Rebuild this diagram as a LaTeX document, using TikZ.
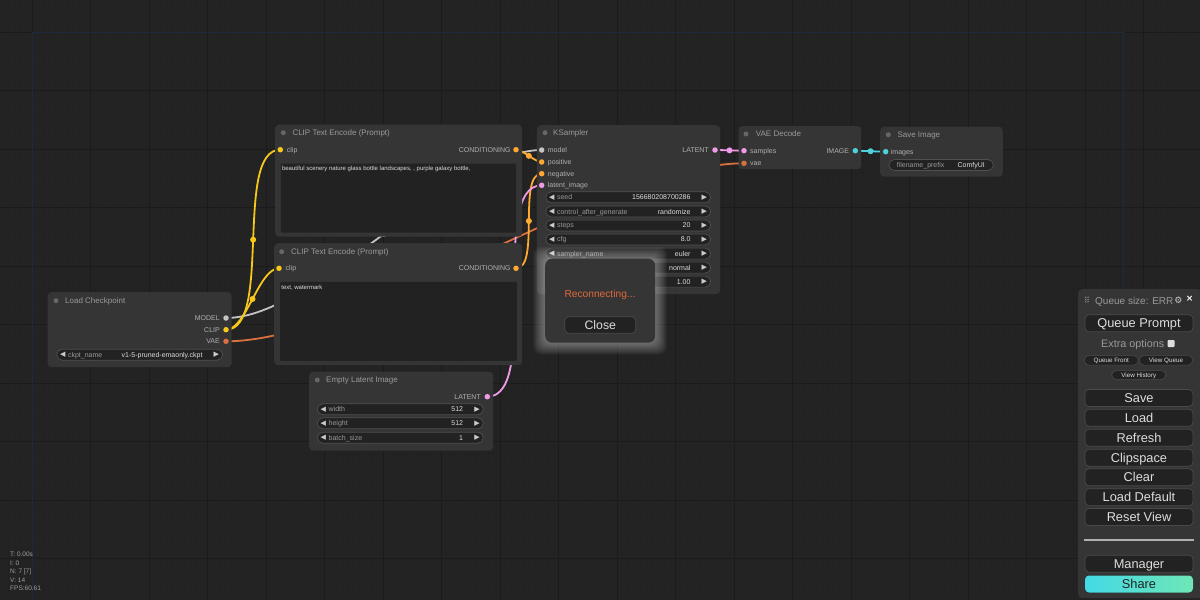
\documentclass[tikz,border=0pt]{standalone}
\usepackage{fontspec}
\setmainfont{Liberation Sans}
\newfontfamily\symf{DejaVu Sans}
\pgfdeclarelayer{gridlayer}
\pgfdeclarelayer{linklayer}
\pgfsetlayers{gridlayer,linklayer,main}
\definecolor{bgc}{HTML}{232323}
\definecolor{gridmin}{HTML}{212121}
\definecolor{gridmaj}{HTML}{1B1B1B}
\definecolor{framec}{HTML}{1C2A3C}
\definecolor{nodebg}{HTML}{353535}
\definecolor{titletxt}{HTML}{9A9A9A}
\definecolor{slottxt}{HTML}{B0B0B0}
\definecolor{tdotc}{HTML}{666666}
\definecolor{wbg}{HTML}{222222}
\definecolor{wborder}{HTML}{505050}
\definecolor{wlab}{HTML}{999999}
\definecolor{wvalc}{HTML}{DDDDDD}
\definecolor{arrc}{HTML}{CCCCCC}
\definecolor{tabg}{HTML}{222222}
\definecolor{tatxt}{HTML}{DDDDDD}
\definecolor{cmodel}{HTML}{C4C4C4}
\definecolor{cclip}{HTML}{F7C71A}
\definecolor{ccond}{HTML}{FFA931}
\definecolor{clat}{HTML}{F09AE8}
\definecolor{cvae}{HTML}{D9703F}
\definecolor{cimg}{HTML}{4DD2DC}
\definecolor{recon}{HTML}{E0683A}
\definecolor{btnbg}{HTML}{222222}
\definecolor{btnbd}{HTML}{4A4A4A}
\definecolor{btntxt}{HTML}{DDDDDD}
\definecolor{sharel}{HTML}{44D9E6}
\definecolor{sharer}{HTML}{6EE6B6}
\definecolor{stattxt}{HTML}{A0A0A0}
\tikzset{
  cnode/.style={fill=nodebg, rounded corners=4pt, anchor=north west, inner sep=0, draw=none},
  ttl/.style={anchor=west, inner sep=0, text=titletxt, font=\fontsize{8}{9}\selectfont, text height=5.8pt, text depth=0pt},
  tdot/.style={circle, fill=tdotc, minimum size=5pt, inner sep=0},
  sdot/.style={circle, fill=#1, minimum size=5.5pt, inner sep=0},
  slblw/.style={anchor=west, inner sep=0, text=slottxt, font=\fontsize{7}{8}\selectfont, text height=5pt, text depth=0pt},
  slble/.style={anchor=east, inner sep=0, text=slottxt, font=\fontsize{7}{8}\selectfont, text height=5pt, text depth=0pt},
  pill/.style={fill=wbg, draw=wborder, line width=0.7pt, rounded corners=5.5pt, minimum height=11pt, inner sep=0},
  warr/.style={inner sep=0, text=arrc, font=\symf\fontsize{7}{8}\selectfont},
  wlbl/.style={anchor=west, inner sep=0, text=wlab, font=\fontsize{7}{8}\selectfont, text height=5pt, text depth=0pt},
  wval/.style={anchor=east, inner sep=0, text=wvalc, font=\fontsize{7}{8}\selectfont, text height=5pt, text depth=0pt},
  tarea/.style={fill=tabg, anchor=north west, inner sep=0, rounded corners=1pt},
  tatext/.style={anchor=west, inner sep=0, text=tatxt, font=\fontsize{6}{7}\selectfont, text height=4.3pt, text depth=0pt},
  link/.style={draw=#1, line width=1.8pt},
  mdot/.style={circle, fill=#1, minimum size=6pt, inner sep=0},
  btn/.style={fill=btnbg, draw=btnbd, line width=0.7pt, rounded corners=4pt, minimum width=108pt, minimum height=17pt, inner sep=0, text=btntxt, font=\fontsize{12.8}{14}\selectfont, text height=9.2pt, text depth=0pt},
  sbtn/.style={fill=btnbg, draw=btnbd, line width=0.6pt, rounded corners=4.5pt, minimum height=9.5pt, inner sep=0, text=btntxt, font=\fontsize{6.3}{7}\selectfont, text height=4.5pt, text depth=0pt},
  stat/.style={anchor=west, inner sep=0, text=stattxt, font=\fontsize{6.5}{7}\selectfont, text height=4.6pt, text depth=0pt}
}
\newcommand\wpill[6]{%
  \node[pill, minimum width={#3-#2}] (#1) at ({(#2+#3)/2},#4) {};
  \node[warr] (#1-a) at ({#2+6},#4) {◀};
  \node[warr] (#1-b) at ({#3-6.3},#4) {▶};
  \node[wlbl] (#1-l) at ({#2+11.2},#4) {#5};
  \node[wval] (#1-v) at ({#3-20},#4) {#6};
}
\newcommand\wpillv[5]{%
  \node[pill, minimum width={#3-#2}] (#1) at ({(#2+#3)/2},#4) {};
  \node[warr] (#1-b) at ({#3-6.3},#4) {▶};
  \node[wval] (#1-v) at ({#3-20},#4) {#5};
}
\begin{document}
\begin{tikzpicture}[x=1pt,y=-1pt]
\useasboundingbox (0,0) rectangle (1200,600);
\begin{pgfonlayer}{gridlayer}
  \fill[bgc] (0,0) rectangle (1200,600);
  \foreach \i in {-3,...,100} {\draw[gridmin, line width=0.5pt] ({32+\i*11.7},0) -- ({32+\i*11.7},600);}
  \foreach \i in {-3,...,50} {\draw[gridmin, line width=0.5pt] (0,{32+\i*11.7}) -- (1200,{32+\i*11.7});}
  \foreach \i in {-1,...,20} {\draw[gridmaj, line width=0.8pt] ({32+\i*58.5},0) -- ({32+\i*58.5},600);}
  \foreach \i in {-1,...,10} {\draw[gridmaj, line width=0.8pt] (0,{32+\i*58.5}) -- (1200,{32+\i*58.5});}
  \draw[framec, line width=0.7pt] (32,600) -- (32,32) -- (1123,32) -- (1123,600);
\end{pgfonlayer}

% ---------- Load Checkpoint
\node[cnode, minimum width=184pt, minimum height=75pt] (lc) at (47.5,292) {};
\node[tdot] (lc-d) at (56,300.7) {};
\node[ttl] (lc-t) at (65,300.7) {Load Checkpoint};
\node[slble] (lc-ml) at (220,318) {MODEL};
\node[slble] (lc-cl) at (220,329.7) {CLIP};
\node[slble] (lc-vl) at (220,341.3) {VAE};
\node[sdot=cmodel] (lc-model) at (226,318) {};
\node[sdot=cclip] (lc-clip) at (226,329.7) {};
\node[sdot=cvae] (lc-vae) at (226,341.3) {};
\wpill{lc-w}{56.7}{222.7}{354.7}{ckpt\_name}{v1-5-pruned-emaonly.ckpt}

% ---------- CLIP Text Encode (top)
\node[cnode, minimum width=247pt, minimum height=112pt] (c1) at (275,124.5) {};
\node[tdot] (c1-d) at (283.3,132.7) {};
\node[ttl] (c1-t) at (292.3,132.7) {CLIP Text Encode (Prompt)};
\node[sdot=cclip] (c1-clip) at (280.3,149.7) {};
\node[slblw] (c1-cl) at (286.7,149.7) {clip};
\node[slble] (c1-ol) at (510.7,149.7) {CONDITIONING};
\node[sdot=ccond] (c1-out) at (516,149.7) {};
\node[tarea, minimum width=235.3pt, minimum height=69pt] (c1-ta) at (280.7,163.3) {};
\node[tatext] (c1-tx) at (281.8,168.8) {beautiful scenery nature glass bottle landscapes, , purple galaxy bottle,};

% ---------- CLIP Text Encode (bottom)
\node[cnode, minimum width=248pt, minimum height=122pt] (c2) at (274,243) {};
\node[tdot] (c2-d) at (281.7,251.7) {};
\node[ttl] (c2-t) at (291,251.7) {CLIP Text Encode (Prompt)};
\node[sdot=cclip] (c2-clip) at (279,268.3) {};
\node[slblw] (c2-cl) at (285.5,268.3) {clip};
\node[slble] (c2-ol) at (510.7,268.3) {CONDITIONING};
\node[sdot=ccond] (c2-out) at (516,268.3) {};
\node[tarea, minimum width=236.7pt, minimum height=79pt] (c2-ta) at (280,281.7) {};
\node[tatext] (c2-tx) at (281.2,287.7) {text, watermark};

% ---------- Empty Latent Image
\node[cnode, minimum width=184pt, minimum height=79pt] (el) at (309,371.5) {};
\node[tdot] (el-d) at (317.3,380) {};
\node[ttl] (el-t) at (326,380) {Empty Latent Image};
\node[slble] (el-ol) at (481,396.7) {LATENT};
\node[sdot=clat] (el-out) at (487.3,396.7) {};
\wpill{el-w1}{317.3}{483.3}{409.3}{width}{512}
\wpill{el-w2}{317.3}{483.3}{423.3}{height}{512}
\wpill{el-w3}{317.3}{483.3}{437.7}{batch\_size}{1}

% ---------- KSampler
\node[cnode, minimum width=183.3pt, minimum height=169pt] (ks) at (536.7,125) {};
\node[tdot] (ks-d) at (545,132.7) {};
\node[ttl] (ks-t) at (553,132.7) {KSampler};
\node[sdot=cmodel] (ks-model) at (541.7,150) {};
\node[sdot=ccond] (ks-pos) at (541.7,162) {};
\node[sdot=ccond] (ks-neg) at (541.7,173.7) {};
\node[sdot=clat] (ks-lat) at (541.7,185.3) {};
\node[slblw] (ks-l1) at (547.7,150) {model};
\node[slblw] (ks-l2) at (547.7,162) {positive};
\node[slblw] (ks-l3) at (547.7,173.7) {negative};
\node[slblw] (ks-l4) at (547.7,185.3) {latent\_image};
\node[slble] (ks-ol) at (709,150) {LATENT};
\node[sdot=clat] (ks-out) at (715,150) {};
\wpill{ks-w1}{545.7}{710.7}{197.3}{seed}{156680208700286}
\wpill{ks-w2}{545.7}{710.7}{211.5}{control\_after\_generate}{randomize}
\wpill{ks-w3}{545.7}{710.7}{225.4}{steps}{20}
\wpill{ks-w4}{545.7}{710.7}{239.4}{cfg}{8.0}
\wpill{ks-w5}{545.7}{710.7}{253.6}{sampler\_name}{euler}
\wpillv{ks-w6}{545.7}{710.7}{267.6}{normal}
\wpillv{ks-w7}{545.7}{710.7}{281.6}{1.00}

% ---------- VAE Decode
\node[cnode, minimum width=122.7pt, minimum height=43.3pt] (vd) at (738.3,125.7) {};
\node[tdot] (vd-d) at (746,134) {};
\node[ttl] (vd-t) at (755.7,134) {VAE Decode};
\node[sdot=clat] (vd-samples) at (744,150.7) {};
\node[sdot=cvae] (vd-vae) at (744,163.3) {};
\node[slblw] (vd-l1) at (750,150.7) {samples};
\node[slblw] (vd-l2) at (750,163.3) {vae};
\node[slble] (vd-ol) at (849.3,150.7) {IMAGE};
\node[sdot=cimg] (vd-out) at (855.3,150.7) {};

% ---------- Save Image
\node[cnode, minimum width=122.7pt, minimum height=50pt] (si) at (880,126.5) {};
\node[tdot] (si-d) at (888.3,134.7) {};
\node[ttl] (si-t) at (897.3,134.7) {Save Image};
\node[sdot=cimg] (si-images) at (885.7,151.7) {};
\node[slblw] (si-l1) at (890.7,151.7) {images};
\node[pill, minimum width=104.3pt] (si-w) at (941.2,165) {};
\node[wlbl] (si-wl) at (896.7,165) {filename\_prefix};
\node[wval] (si-wv) at (985,165) {ComfyUI};

% ---------- links
\begin{pgfonlayer}{linklayer}
  \draw[link=cmodel] (lc-model.center) .. controls +(89.4,0) and +(-89.4,0) .. (ks-model.center) node[mdot=cmodel, pos=0.5] (m1) {};
  \draw[link=cclip] (lc-clip.center) .. controls +(47,0) and +(-47,0) .. (c1-clip.center) node[mdot=cclip, pos=0.5] (m2) {};
  \draw[link=cclip] (lc-clip.center) .. controls +(20.3,0) and +(-20.3,0) .. (c2-clip.center) node[mdot=cclip, pos=0.5] (m3) {};
  \draw[link=cvae] (lc-vae.center) .. controls +(137,0) and +(-137,0) .. (vd-vae.center) node[mdot=cvae, pos=0.5] (m4) {};
  \draw[link=ccond] (c1-out.center) .. controls +(7.1,0) and +(-7.1,0) .. (ks-pos.center) node[mdot=ccond, pos=0.5] (m5) {};
  \draw[link=ccond] (c2-out.center) .. controls +(24.5,0) and +(-24.5,0) .. (ks-neg.center) node[mdot=ccond, pos=0.5] (m6) {};
  \draw[link=clat] (el-out.center) .. controls +(54.6,0) and +(-54.6,0) .. (ks-lat.center) node[mdot=clat, pos=0.5] (m7) {};
  \draw[link=clat] (ks-out.center) .. controls +(7.25,0) and +(-7.25,0) .. (vd-samples.center) node[mdot=clat, pos=0.5] (m8) {};
  \draw[link=cimg] (vd-out.center) .. controls +(7.6,0) and +(-7.6,0) .. (si-images.center) node[mdot=cimg, pos=0.5] (m9) {};
\end{pgfonlayer}

% ---------- Reconnecting dialog
\foreach \k in {1,...,12} {\fill[white, opacity=0.035, rounded corners=8pt] ({545-\k},{258.5-\k}) rectangle ({655+\k},{342.5+\k});}
\node[cnode, minimum width=110pt, minimum height=84pt, rounded corners=7pt] (dlg) at (545,258.5) {};
\node[inner sep=0, text=recon, font=\fontsize{10.2}{12}\selectfont] (dlg-t) at (600,294.5) {Reconnecting...};
\node[btn, minimum width=71pt, minimum height=16.5pt, font=\fontsize{12.3}{14}\selectfont, text height=8.8pt] (dlg-b) at (600.3,325) {Close};

% ---------- right panel
\node[cnode, minimum width=124pt, minimum height=309pt] (qp) at (1078,289) {};
\node[inner sep=0, text=titletxt, font=\symf\fontsize{8}{9}\selectfont] (qp-h) at (1087,300.7) {⠿};
\node[anchor=west, inner sep=0, text=titletxt, font=\fontsize{10}{11}\selectfont, text height=7.2pt, text depth=0pt] (qp-s) at (1095,300.7) {Queue size: ERR};
\node[inner sep=0, text=arrc, font=\symf\fontsize{9}{10}\selectfont] (qp-g) at (1178.5,300.8) {⚙};
\node[inner sep=0, text=white, font=\symf\bfseries\fontsize{9}{10}\selectfont] (qp-x) at (1189.6,298.6) {×};
\node[btn] (b-qp) at (1139,323.3) {Queue Prompt};
\node[anchor=west, inner sep=0, text=titletxt, font=\fontsize{10.8}{12}\selectfont, text height=7.8pt, text depth=0pt] (b-eo) at (1101,344) {Extra options};
\node[fill=wvalc, minimum size=7pt, inner sep=0, rounded corners=0.8pt] (b-cb) at (1171,343.5) {};
\node[sbtn, minimum width=54pt] (b-qf) at (1111.3,360.3) {Queue Front};
\node[sbtn, minimum width=53.4pt] (b-vq) at (1166,360.3) {View Queue};
\node[sbtn, minimum width=54.3pt, minimum height=8.7pt] (b-vh) at (1138.8,375) {View History};
\node[btn] (b-sv) at (1139,398) {Save};
\node[btn] (b-ld) at (1139,417.7) {Load};
\node[btn] (b-rf) at (1139,437.7) {Refresh};
\node[btn] (b-cs) at (1139,457.7) {Clipspace};
\node[btn] (b-cl) at (1139,477.3) {Clear};
\node[btn] (b-dd) at (1139,497.3) {Load Default};
\node[btn] (b-rv) at (1139,517) {Reset View};
\coordinate (sepL) at (1084,540);
\coordinate (sepR) at (1194,540);
\draw[slottxt, line width=1.3pt] (sepL) -- (sepR);
\node[btn] (b-mg) at (1139,563.7) {Manager};
\node[btn, draw=none, left color=sharel, right color=sharer, text=btnbg] (b-sh) at (1139,584) {Share};

% ---------- stats
\node[stat] (st1) at (10,554.3) {T: 0.00s};
\node[stat] (st2) at (10,562.8) {I: 0};
\node[stat] (st3) at (10,571.6) {N: 7 [7]};
\node[stat] (st4) at (10,580) {V: 14};
\node[stat] (st5) at (10,588.3) {FPS:60.61};
\end{tikzpicture}
\end{document}
